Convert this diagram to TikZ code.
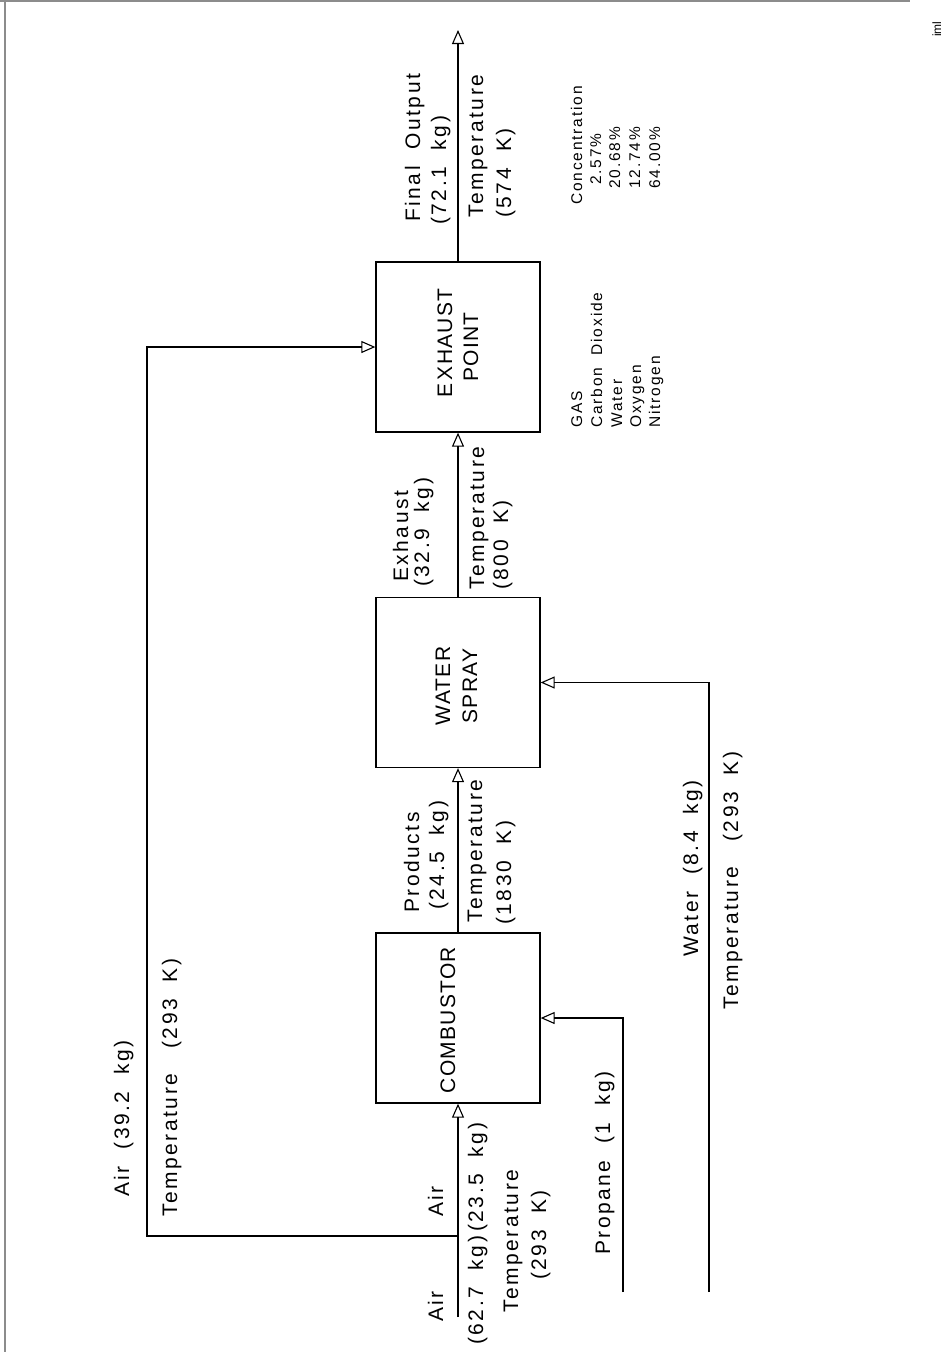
\documentclass[tikz,border=0pt]{standalone}
\usepackage{fontspec}
\setmainfont{Liberation Sans}
\newfontfamily\cad[LetterSpace=12]{Liberation Sans}
\newfontfamily\cadb[LetterSpace=6]{Liberation Sans}
\usetikzlibrary{arrows.meta}
\begin{document}
\begin{tikzpicture}[x=1pt,y=-1pt,
  box/.style={draw, line width=1.3pt, minimum width=164pt, minimum height=170pt, inner sep=0pt},
  flow/.style={line width=1.2pt, -{Triangle[open,length=14pt,width=12pt,line width=1.1pt]}},
  lbl/.style={rotate=90, anchor=base west, inner sep=0pt, font=\cad\fontsize{21}{25}\selectfont},
  sml/.style={rotate=90, anchor=base west, inner sep=0pt, font=\cad\fontsize{15.5}{19}\selectfont},
  boxlbl/.style={rotate=90, anchor=base, inner sep=0pt, font=\cadb\fontsize{21}{27}\selectfont},
  edge/.style={draw=black!45, line width=1.2pt}
]
\fill[white] (0,0) rectangle (947,1352);
\useasboundingbox (0,0) rectangle (947,1352);
% scan border
\draw[edge] (0,1) -- (910,1);
\draw[edge] (5,0) -- (5,1352);

% boxes
\node[box] (comb)  at (458,1018) {};
\node[box] (spray) at (458,682.5) {};
\node[box] (exh)   at (458,347) {};

\node[boxlbl] (combl) at (455,1020) {COMBUSTOR};
\node[boxlbl] (sprayl1) at (450,686) {WATER};
\node[boxlbl] (sprayl2) at (477,686) {SPRAY};
\node[boxlbl] (exhl1) at (452,343) {E\,XHAUST};
\node[boxlbl] (exhl2) at (478,347) {POINT};

% coordinates
\coordinate (airin) at (458,1317);
\coordinate (junc) at (458,1236);
\coordinate (bypass) at (147,347);
\coordinate (prop) at (623,1292);
\coordinate (wat) at (709,1292);
\coordinate (out) at (458,30);

% connectors
\draw[flow] (airin) -- (comb.south);
\draw[flow] (junc) -| (bypass) -- (exh.west);
\draw[flow] (prop) |- (comb.east);
\draw[flow] (wat) |- (spray.east);
\draw[flow] (comb.north) -- (spray.south);
\draw[flow] (spray.north) -- (exh.south);
\draw[flow] (exh.north) -- (out);

% air input labels
\node[lbl] (air1) at (443,1322) {Air};
\node[lbl] (air1m) at (483,1345) {(62.7~~kg)};
\node[lbl] (air2m) at (483,1232) {(23.5~~kg)};
\node[lbl] (air2) at (443,1217) {Air};
\node[lbl] (airT) at (518,1313) {Temperature};
\node[lbl] (airK) at (546,1280) {(293~~K)};

% bypass labels
\node[lbl] (byp1) at (129,1197) {Air~~(39.2~~kg)};
\node[lbl] (byp2) at (177,1217) {Temperature~~~(293~~K)};

% propane
\node[lbl] (propl) at (610,1255) {Propane~~(1~~kg)};

% water
\node[lbl] (watl) at (698,957) {Water~~(8.4~~kg)};
\node[lbl] (watT) at (738,1010) {Temperature~~~(293~~K)};

% products
\node[lbl] (prod1) at (419,913) {Products};
\node[lbl] (prod2) at (444,910) {(24.5~~kg)};
\node[lbl] (prod3) at (482,923) {Temperature};
\node[lbl] (prod4) at (511,925) {(1830~~K)};

% exhaust
\node[lbl] (ex1) at (408,582) {Exhaust};
\node[lbl] (ex2) at (429,587) {(32.9~~kg)};
\node[lbl] (ex3) at (484,590) {Temperature};
\node[lbl] (ex4) at (508,590) {(800~~K)};

% final output
\node[lbl] (fo1) at (420,222) {Final~~Output};
\node[lbl] (fo2) at (446,225) {(72.1~~kg)};
\node[lbl] (fo3) at (483,218) {Temperature};
\node[lbl] (fo4) at (511,218) {(574~~K)};

% gas table
\node[sml] (g1) at (582,428) {GAS};
\node[sml] (g2) at (602,428) {Carbon~~Dioxide};
\node[sml] (g3) at (622,428) {Water};
\node[sml] (g4) at (641,428) {Oxygen};
\node[sml] (g5) at (660,428) {Nitrogen};
\node[sml] (c1) at (582,205) {Concentration};
\node[sml] (c2) at (601,185) {2.57\%};
\node[sml] (c3) at (620,189) {20.68\%};
\node[sml] (c4) at (640,189) {12.74\%};
\node[sml] (c5) at (660,189) {64.00\%};

\node[rotate=90, anchor=base west, inner sep=0pt, font=\fontsize{12}{14}\selectfont] (iml) at (941,37) {iml};
\end{tikzpicture}
\end{document}
